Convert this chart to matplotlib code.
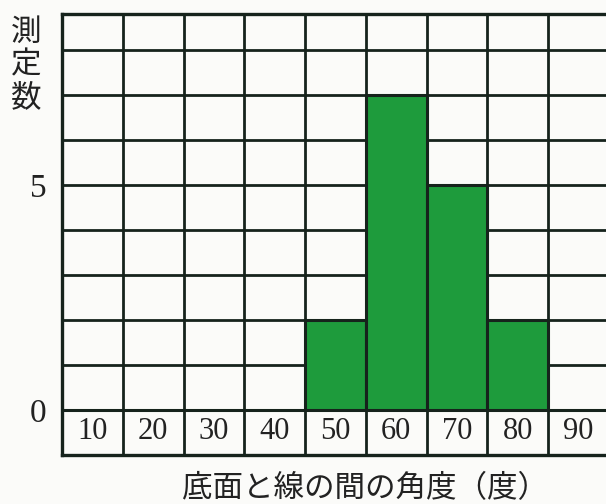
import matplotlib
matplotlib.use("Agg")
import matplotlib.pyplot as plt

# histogram data: angle between base and line (degrees) vs number of measurements
angles = [10, 20, 30, 40, 50, 60, 70, 80, 90]
counts = [0, 0, 0, 0, 2, 7, 5, 2, 0]
angle_labels = ["10", "20", "30", "40", "50", "60", "70", "80", "90"]
y_ticks = [0, 5]
y_label = "測\n定\n数"
x_label = "底面と線の間の角度（度）"

ink = "#16231c"
green = "#1e9b3c"
paper = "#fbfbf9"

fig = plt.figure(figsize=(6.06, 5.04), dpi=100)
fig.patch.set_facecolor(paper)

# axes runs slightly past the right edge, like the scanned page
ax = fig.add_axes([62 / 606, 49 / 504, 547 / 606, 441 / 504])
ax.set_facecolor(paper)
ax.set_xlim(5, 95)
ax.set_ylim(-1, 8.8)

ax.bar(angles, counts, width=10, bottom=0, color=green,
       edgecolor=ink, linewidth=2.2, zorder=3)

# grid lines
edges = [a - 5 for a in angles] + [angles[-1] + 5]
for e in edges:
    ax.axvline(e, color=ink, lw=2.0, zorder=2)
for y in range(-1, 9):
    ax.axhline(y, color=ink, lw=2.0, zorder=2)

for s in ax.spines.values():
    s.set_color(ink)
    s.set_linewidth(2.4)

ax.set_xticks([])
ax.set_yticks(y_ticks)
ax.set_yticklabels([str(v) for v in y_ticks], family="Liberation Serif",
                   fontsize=24, color="#222")
ax.tick_params(axis="y", length=0, pad=11)

# angle labels sit inside the bottom row of cells
for a, lab in zip(angles, angle_labels):
    ax.text(a, -0.48, lab, ha="center", va="center",
            family="Liberation Serif", fontsize=22, color="#222", zorder=4)

fig.text(26 / 606, 1 - 65 / 504, y_label, ha="center", va="center",
         family=["Noto Sans CJK JP", "DejaVu Sans"], fontsize=22,
         linespacing=1.08, color="#222")
fig.text(365 / 606, 1 - 489 / 504, x_label, ha="center", va="center",
         family=["Noto Sans CJK JP", "DejaVu Sans"], fontsize=22,
         color="#222")

fig.savefig("out.png", dpi=100, facecolor=paper)
